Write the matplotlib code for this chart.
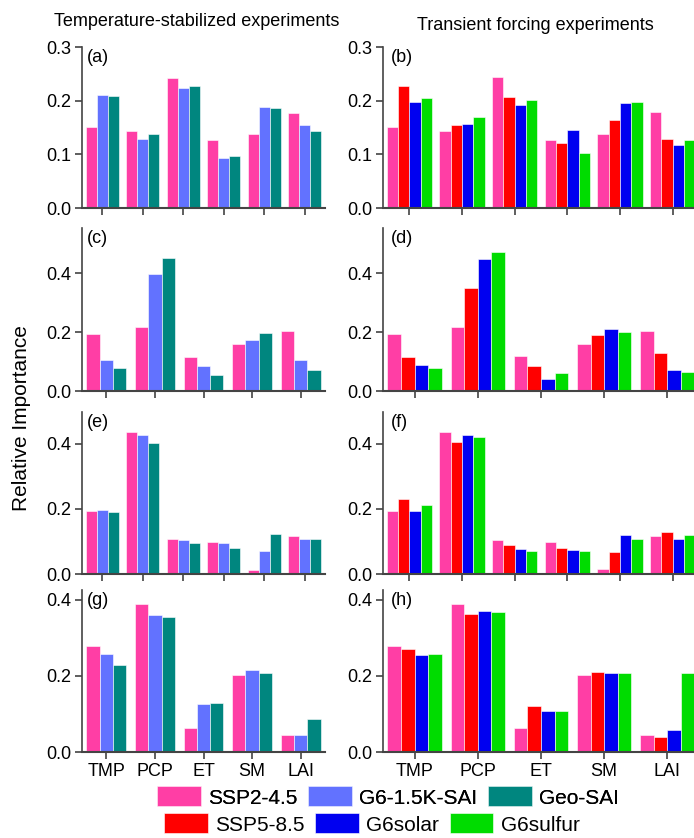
import numpy as np
import matplotlib
matplotlib.use("Agg")
import matplotlib.pyplot as plt
from matplotlib.patches import Patch

plt.rcParams["font.family"] = ["Liberation Sans", "DejaVu Sans"]

# categories
cats6 = ["", "", "", "", "", ""]
cats5 = ["TMP", "PCP", "ET", "SM", "LAI"]

# series names / colours
stab_names = ["SSP2-4.5", "G6-1.5K-SAI", "Geo-SAI"]
trans_names = ["SSP2-4.5", "SSP5-8.5", "G6solar", "G6sulfur"]
colors = {
    "SSP2-4.5": "#ff3ea5",
    "G6-1.5K-SAI": "#6272ff",
    "Geo-SAI": "#00867f",
    "SSP5-8.5": "#ff0000",
    "G6solar": "#0000f0",
    "G6sulfur": "#00dc00",
}

# (a) temperature-stabilized, 6 groups
a_ssp245 = [0.150, 0.144, 0.243, 0.126, 0.137, 0.177]
a_g6k = [0.211, 0.129, 0.223, 0.094, 0.188, 0.154]
a_geo = [0.208, 0.138, 0.228, 0.097, 0.186, 0.144]
# (b) transient, 6 groups
b_ssp245 = [0.150, 0.144, 0.244, 0.127, 0.138, 0.178]
b_ssp585 = [0.228, 0.155, 0.206, 0.121, 0.164, 0.128]
b_solar = [0.197, 0.156, 0.191, 0.145, 0.196, 0.117]
b_sulfur = [0.205, 0.169, 0.202, 0.102, 0.197, 0.127]
# (c)
c_ssp245 = [0.194, 0.217, 0.117, 0.158, 0.205]
c_g6k = [0.104, 0.397, 0.086, 0.174, 0.105]
c_geo = [0.078, 0.451, 0.055, 0.197, 0.070]
# (d)
d_ssp245 = [0.193, 0.217, 0.118, 0.158, 0.202]
d_ssp585 = [0.114, 0.351, 0.084, 0.189, 0.128]
d_solar = [0.087, 0.447, 0.042, 0.209, 0.071]
d_sulfur = [0.077, 0.471, 0.061, 0.199, 0.064]
# (e)
e_ssp245 = [0.194, 0.438, 0.108, 0.099, 0.013, 0.118]
e_g6k = [0.196, 0.428, 0.106, 0.094, 0.072, 0.108]
e_geo = [0.191, 0.403, 0.096, 0.081, 0.124, 0.108]
# (f)
f_ssp245 = [0.195, 0.438, 0.106, 0.099, 0.015, 0.116]
f_ssp585 = [0.230, 0.407, 0.089, 0.079, 0.068, 0.130]
f_solar = [0.195, 0.428, 0.076, 0.074, 0.120, 0.109]
f_sulfur = [0.211, 0.420, 0.072, 0.072, 0.107, 0.121]
# (g)
g_ssp245 = [0.279, 0.390, 0.064, 0.203, 0.044]
g_g6k = [0.258, 0.359, 0.127, 0.216, 0.045]
g_geo = [0.228, 0.354, 0.128, 0.207, 0.086]
# (h)
h_ssp245 = [0.279, 0.390, 0.064, 0.203, 0.044]
h_ssp585 = [0.271, 0.362, 0.121, 0.210, 0.039]
h_solar = [0.256, 0.372, 0.108, 0.207, 0.059]
h_sulfur = [0.259, 0.367, 0.108, 0.207, 0.207]

W, H = 694, 838
fig = plt.figure(figsize=(W / 100, H / 100), dpi=100)

rows = [  # (top_px, bottom_px, ylim, yticks)
    (47, 208, 0.3, [0.0, 0.1, 0.2, 0.3]),
    (228, 391, 0.553, [0.0, 0.2, 0.4]),
    (412, 574, 0.498, [0.0, 0.2, 0.4]),
    (590, 752, 0.426, [0.0, 0.2, 0.4]),
]
panels = [
    ("(a)", cats6, stab_names, [a_ssp245, a_g6k, a_geo]),
    ("(b)", cats6, trans_names, [b_ssp245, b_ssp585, b_solar, b_sulfur]),
    ("(c)", cats5, stab_names, [c_ssp245, c_g6k, c_geo]),
    ("(d)", cats5, trans_names, [d_ssp245, d_ssp585, d_solar, d_sulfur]),
    ("(e)", cats6, stab_names, [e_ssp245, e_g6k, e_geo]),
    ("(f)", cats6, trans_names, [f_ssp245, f_ssp585, f_solar, f_sulfur]),
    ("(g)", cats5, stab_names, [g_ssp245, g_g6k, g_geo]),
    ("(h)", cats5, trans_names, [h_ssp245, h_ssp585, h_solar, h_sulfur]),
]
cols = [(82, 243), (383, 316)]
fs = 13

for i, (label, cats, names, series) in enumerate(panels):
    r, c = divmod(i, 2)
    top, bot, ymax, yt = rows[r]
    x0, w = cols[c]
    ax = fig.add_axes([x0 / W, 1 - bot / H, w / W, (bot - top) / H])
    n = len(series)
    group = 0.82 if n == 3 else 0.86
    bw = group / n
    x = np.arange(len(series[0]))
    for k, (name, vals) in enumerate(zip(names, series)):
        ax.bar(x - group / 2 + bw * (k + 0.5), vals, bw, color=colors[name],
               edgecolor="white", linewidth=0.4)
    ax.set_xlim(-0.5, len(x) - 0.5)
    ax.set_ylim(0, ymax)
    ax.set_yticks(yt)
    ax.set_yticklabels([f"{v:.1f}" for v in yt])
    ax.set_xticks(x)
    if r == 3:
        ax.set_xticklabels(cats)
    else:
        ax.set_xticklabels([])
    for s in ["top", "right"]:
        ax.spines[s].set_visible(False)
    ax.spines["left"].set_color("#444444")
    ax.spines["bottom"].set_color("#444444")
    ax.spines["left"].set_linewidth(1.2)
    ax.spines["bottom"].set_linewidth(1.5)
    ax.tick_params(axis="both", direction="out", length=5, width=1.1,
                   colors="#333333", labelcolor="black", labelsize=fs, pad=3)
    ax.text(0.022 if c == 0 else 0.025, 0.985, label, transform=ax.transAxes,
            ha="left", va="top", fontsize=fs)

fig.text(197 / W, 1 - 22 / H, "Temperature-stabilized experiments",
         ha="center", va="center", fontsize=fs)
fig.text(535 / W, 1 - 25 / H, "Transient forcing experiments",
         ha="center", va="center", fontsize=fs)
fig.text(22 / W, 1 - 418 / H, "Relative Importance", rotation=90,
         ha="center", va="center", fontsize=15)

leg_kw = dict(ncol=3, frameon=False, fontsize=15, handlelength=2.1,
              handleheight=1.1, columnspacing=0.5, handletextpad=0.35,
              borderpad=0.0, borderaxespad=0.0)
h1 = [Patch(facecolor=colors[n], edgecolor="white", linewidth=0.4) for n in stab_names]
l1 = fig.legend(h1, stab_names, loc="center", bbox_to_anchor=(388 / W, 1 - 797 / H), **leg_kw)
fig.add_artist(l1)
trans_only = ["SSP5-8.5", "G6solar", "G6sulfur"]
h2 = [Patch(facecolor=colors[n], edgecolor="white", linewidth=0.4) for n in trans_only]
fig.legend(h2, trans_only, loc="center", bbox_to_anchor=(372 / W, 1 - 824 / H), **leg_kw)

fig.savefig("out.png", dpi=100)
